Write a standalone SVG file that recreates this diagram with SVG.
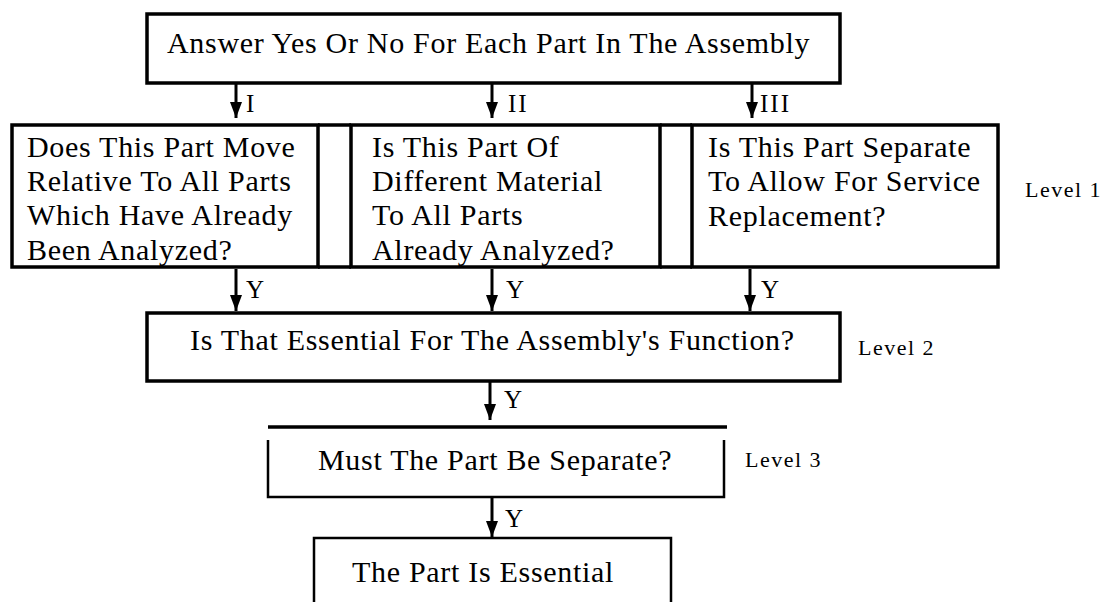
<svg xmlns="http://www.w3.org/2000/svg" width="1102" height="602" viewBox="0 0 1102 602">
<style>
.box{fill:none;stroke:#000;stroke-width:3.5}
.thin{fill:none;stroke:#000;stroke-width:2.5}
text{font-family:'Liberation Serif','Times New Roman','DejaVu Serif',serif;fill:#000}
.t{font-size:30px;letter-spacing:0.7px}
.lab{font-size:25px;letter-spacing:2px}
.lvl{font-size:22px;letter-spacing:1.5px}
.arr{stroke:#000;stroke-width:3;fill:none}
</style>
<defs>
<marker id="ah" markerUnits="userSpaceOnUse" markerWidth="16" markerHeight="12" viewBox="0 0 16 12" refX="16" refY="6" orient="auto">
<path d="M0,0 L16,6 L0,12 z" fill="#000"/>
</marker>
</defs>
<rect width="1102" height="602" fill="#fff"/>
<g id="start">
<rect class="box" x="147" y="14" width="693" height="69"/>
<text class="t" x="167" y="53">Answer Yes Or No For Each Part In The Assembly</text>
</g>
<g id="frame">
<line class="box" x1="318" y1="125" x2="351" y2="125"/>
<line class="box" x1="660" y1="125" x2="692" y2="125"/>
<line class="box" x1="318" y1="267" x2="351" y2="267"/>
<line class="box" x1="660" y1="267" x2="692" y2="267"/>
</g>
<g id="q1">
<rect class="box" x="12" y="125" width="306" height="142"/>
<text class="t" x="27" y="157">Does This Part Move</text>
<text class="t" x="27" y="191">Relative To All Parts</text>
<text class="t" x="27" y="225">Which Have Already</text>
<text class="t" x="27" y="260">Been Analyzed?</text>
</g>
<g id="q2">
<rect class="box" x="351" y="125" width="309" height="142"/>
<text class="t" x="372" y="157">Is This Part Of</text>
<text class="t" x="372" y="191">Different Material</text>
<text class="t" x="372" y="225">To All Parts</text>
<text class="t" x="372" y="260">Already Analyzed?</text>
</g>
<g id="q3">
<rect class="box" x="692" y="125" width="306" height="142"/>
<text class="t" x="708" y="157">Is This Part Separate</text>
<text class="t" x="708" y="191">To Allow For Service</text>
<text class="t" x="708" y="226">Replacement?</text>
</g>
<g id="level2">
<rect class="box" x="147" y="313" width="693" height="68"/>
<text class="t" x="190" y="350">Is That Essential For The Assembly's Function?</text>
</g>
<g id="level3">
<line class="box" x1="268" y1="427" x2="727" y2="427"/>
<path class="thin" d="M268,440 V497 H724 V440"/>
<text class="t" x="318" y="470">Must The Part Be Separate?</text>
</g>
<g id="result">
<path class="thin" d="M314,602 V538 H671 V602"/>
<text class="t" x="352" y="582">The Part Is Essential</text>
</g>
<g id="labels">
<text class="lvl" x="1025" y="197">Level 1</text>
<text class="lvl" x="858" y="355">Level 2</text>
<text class="lvl" x="745" y="467">Level 3</text>
</g>
<g id="connectors">
<line class="arr" x1="236" y1="84" x2="236" y2="118" marker-end="url(#ah)"/>
<line class="arr" x1="492" y1="84" x2="492" y2="118" marker-end="url(#ah)"/>
<line class="arr" x1="752" y1="84" x2="752" y2="118" marker-end="url(#ah)"/>
<line class="arr" x1="236" y1="269" x2="236" y2="311" marker-end="url(#ah)"/>
<line class="arr" x1="492" y1="269" x2="492" y2="311" marker-end="url(#ah)"/>
<line class="arr" x1="750" y1="269" x2="750" y2="311" marker-end="url(#ah)"/>
<line class="arr" x1="490" y1="382" x2="490" y2="420" marker-end="url(#ah)"/>
<line class="arr" x1="492" y1="498" x2="492" y2="537" marker-end="url(#ah)"/>
<text class="lab" x="246" y="112">I</text>
<text class="lab" x="508" y="112">II</text>
<text class="lab" x="760" y="112">III</text>
<text class="lab" x="246" y="298">Y</text>
<text class="lab" x="506" y="298">Y</text>
<text class="lab" x="761" y="298">Y</text>
<text class="lab" x="504" y="408">Y</text>
<text class="lab" x="505" y="527">Y</text>
</g>
</svg>
